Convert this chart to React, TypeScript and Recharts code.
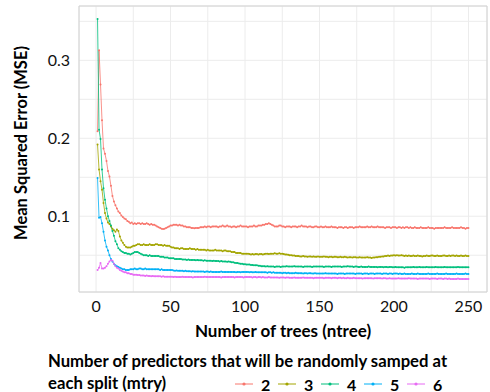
import React from 'react';
import { LineChart, Line, XAxis, YAxis, CartesianGrid, ReferenceArea } from 'recharts';

// Out-of-bag MSE of a random forest by number of trees, one series per mtry value
const mtryLevels = ['2', '3', '4', '5', '6'];
const seriesColors = ['#F8766D', '#A3A500', '#00BF7D', '#00B0F6', '#E76BF3'];

const mse2 = [
  0.209, 0.313, 0.269, 0.223, 0.187, 0.180, 0.171, 0.158, 0.151, 0.139,
  0.126, 0.119, 0.114, 0.110, 0.106, 0.104, 0.101, 0.099, 0.097, 0.096,
  0.094, 0.093, 0.091, 0.092, 0.090, 0.091, 0.090, 0.091, 0.091, 0.090,
  0.091, 0.090, 0.090, 0.091, 0.090, 0.089, 0.090, 0.089, 0.089, 0.088,
  0.087, 0.086, 0.085, 0.084, 0.0835, 0.084, 0.085, 0.086, 0.087, 0.088,
  0.088, 0.089, 0.089, 0.089, 0.088, 0.089, 0.088, 0.088, 0.087, 0.087,
  0.086, 0.086, 0.086, 0.085, 0.085, 0.0845, 0.085, 0.085, 0.085, 0.086,
  0.086, 0.086, 0.087, 0.086, 0.087, 0.087, 0.086, 0.087, 0.087, 0.087,
  0.087, 0.086, 0.087, 0.087, 0.088, 0.087, 0.087, 0.088, 0.087, 0.087,
  0.086, 0.087, 0.087, 0.086, 0.087, 0.087, 0.088, 0.087, 0.087, 0.087,
  0.087, 0.086, 0.087, 0.087, 0.087, 0.088, 0.087, 0.087, 0.088, 0.088,
  0.088, 0.089, 0.089, 0.090, 0.090, 0.091, 0.090, 0.089, 0.088, 0.087,
  0.087, 0.087, 0.088, 0.088, 0.087, 0.087, 0.086, 0.087, 0.087, 0.087,
  0.086, 0.087, 0.087, 0.087, 0.086, 0.087, 0.087, 0.088, 0.087, 0.087,
  0.087, 0.086, 0.087, 0.087, 0.086, 0.086, 0.087, 0.087, 0.086, 0.086,
  0.087, 0.086, 0.086, 0.087, 0.086, 0.086, 0.086, 0.087, 0.086, 0.086,
  0.086, 0.085, 0.086, 0.086, 0.086, 0.085, 0.086, 0.086, 0.085, 0.086,
  0.086, 0.086, 0.085, 0.086, 0.086, 0.086, 0.087, 0.086, 0.086, 0.086,
  0.086, 0.087, 0.086, 0.086, 0.087, 0.086, 0.086, 0.086, 0.087, 0.086,
  0.086, 0.086, 0.086, 0.085, 0.086, 0.086, 0.086, 0.085, 0.086, 0.086,
  0.086, 0.085, 0.086, 0.086, 0.085, 0.086, 0.085, 0.086, 0.086, 0.085,
  0.086, 0.085, 0.085, 0.086, 0.085, 0.085, 0.085, 0.086, 0.085, 0.085,
  0.085, 0.085, 0.086, 0.085, 0.085, 0.085, 0.084, 0.085, 0.085, 0.085,
  0.085, 0.085, 0.085, 0.086, 0.085, 0.085, 0.085, 0.085, 0.086, 0.085,
  0.085, 0.085, 0.085, 0.085, 0.086, 0.085, 0.085, 0.084, 0.085, 0.085,
];

const mse3 = [
  0.192, 0.160, 0.145, 0.134, 0.117, 0.104, 0.097, 0.092, 0.090, 0.087,
  0.084, 0.082, 0.080, 0.083, 0.081, 0.074, 0.069, 0.066, 0.063, 0.061,
  0.060, 0.060, 0.060, 0.061, 0.062, 0.062, 0.063, 0.064, 0.064, 0.063,
  0.063, 0.064, 0.063, 0.063, 0.063, 0.064, 0.063, 0.063, 0.063, 0.064,
  0.064, 0.063, 0.063, 0.063, 0.062, 0.063, 0.062, 0.062, 0.062, 0.061,
  0.060, 0.060, 0.059, 0.059, 0.059, 0.058, 0.059, 0.059, 0.058, 0.058,
  0.058, 0.058, 0.059, 0.058, 0.058, 0.058, 0.057, 0.058, 0.057, 0.057,
  0.057, 0.057, 0.057, 0.056, 0.057, 0.056, 0.056, 0.056, 0.056, 0.057,
  0.056, 0.056, 0.056, 0.056, 0.055, 0.056, 0.056, 0.055, 0.055, 0.055,
  0.054, 0.054, 0.054, 0.053, 0.053, 0.053, 0.053, 0.052, 0.052, 0.052,
  0.052, 0.052, 0.0515, 0.051, 0.0515, 0.051, 0.0515, 0.0515, 0.051, 0.0515,
  0.0515, 0.051, 0.0515, 0.052, 0.052, 0.0515, 0.052, 0.052, 0.052, 0.0525,
  0.052, 0.052, 0.0525, 0.052, 0.052, 0.0515, 0.051, 0.051, 0.0505, 0.050,
  0.050, 0.0495, 0.0495, 0.049, 0.049, 0.049, 0.0485, 0.0485, 0.049, 0.0485,
  0.0485, 0.048, 0.0485, 0.0485, 0.048, 0.0485, 0.048, 0.048, 0.0485, 0.048,
  0.048, 0.048, 0.0485, 0.048, 0.048, 0.0475, 0.048, 0.048, 0.0475, 0.048,
  0.048, 0.0475, 0.0475, 0.048, 0.0475, 0.0475, 0.048, 0.0475, 0.047, 0.0475,
  0.0475, 0.047, 0.0475, 0.0475, 0.047, 0.047, 0.0475, 0.047, 0.047, 0.047,
  0.047, 0.0475, 0.047, 0.047, 0.0465, 0.047, 0.047, 0.0475, 0.0475, 0.048,
  0.048, 0.0485, 0.0485, 0.049, 0.049, 0.0495, 0.049, 0.0495, 0.0495, 0.050,
  0.0495, 0.050, 0.0495, 0.0495, 0.050, 0.0495, 0.049, 0.0495, 0.049, 0.0495,
  0.049, 0.049, 0.0495, 0.049, 0.049, 0.0495, 0.049, 0.049, 0.0485, 0.049,
  0.049, 0.0495, 0.049, 0.049, 0.0495, 0.0495, 0.049, 0.049, 0.0495, 0.049,
  0.049, 0.049, 0.0495, 0.0495, 0.049, 0.049, 0.0495, 0.049, 0.0495, 0.0495,
  0.049, 0.0495, 0.049, 0.049, 0.0495, 0.049, 0.049, 0.0495, 0.049, 0.049,
];

const mse4 = [
  0.353, 0.211, 0.199, 0.160, 0.136, 0.121, 0.110, 0.100, 0.094, 0.088,
  0.081, 0.075, 0.068, 0.064, 0.059, 0.057, 0.055, 0.054, 0.053, 0.053,
  0.052, 0.052, 0.051, 0.052, 0.053, 0.054, 0.054, 0.054, 0.053, 0.052,
  0.051, 0.050, 0.050, 0.050, 0.049, 0.050, 0.049, 0.049, 0.049, 0.049,
  0.049, 0.049, 0.048, 0.048, 0.048, 0.047, 0.047, 0.047, 0.046, 0.046,
  0.046, 0.046, 0.045, 0.045, 0.045, 0.045, 0.045, 0.0445, 0.0445, 0.0445,
  0.044, 0.0445, 0.044, 0.044, 0.044, 0.044, 0.0435, 0.044, 0.0435, 0.0435,
  0.0435, 0.043, 0.0435, 0.043, 0.043, 0.043, 0.043, 0.0425, 0.043, 0.0425,
  0.0425, 0.0425, 0.042, 0.0425, 0.042, 0.042, 0.042, 0.0415, 0.042, 0.0415,
  0.041, 0.041, 0.0405, 0.040, 0.040, 0.0395, 0.039, 0.039, 0.0385, 0.0385,
  0.038, 0.038, 0.038, 0.0375, 0.0375, 0.037, 0.037, 0.037, 0.0365, 0.0365,
  0.036, 0.036, 0.036, 0.0355, 0.036, 0.0355, 0.0355, 0.0355, 0.0355, 0.035,
  0.0355, 0.0355, 0.0355, 0.035, 0.0355, 0.0355, 0.0355, 0.036, 0.0355, 0.0355,
  0.0355, 0.0355, 0.036, 0.0355, 0.0355, 0.0355, 0.0355, 0.0355, 0.035, 0.0355,
  0.0355, 0.0355, 0.0355, 0.0355, 0.035, 0.0355, 0.0355, 0.0355, 0.0355, 0.0355,
  0.0355, 0.0355, 0.035, 0.0355, 0.0355, 0.0355, 0.0355, 0.035, 0.0355, 0.0355,
  0.0355, 0.0355, 0.0355, 0.0355, 0.035, 0.0355, 0.0355, 0.0355, 0.036, 0.0355,
  0.0355, 0.0355, 0.035, 0.0355, 0.0355, 0.035, 0.035, 0.0355, 0.035, 0.035,
  0.035, 0.035, 0.0355, 0.035, 0.035, 0.035, 0.035, 0.035, 0.0345, 0.035,
  0.035, 0.035, 0.0345, 0.035, 0.035, 0.0345, 0.035, 0.035, 0.0345, 0.0345,
  0.035, 0.0345, 0.0345, 0.0345, 0.0345, 0.0345, 0.034, 0.0345, 0.0345, 0.0345,
  0.0345, 0.0345, 0.035, 0.0345, 0.0345, 0.0345, 0.035, 0.0345, 0.0345, 0.0345,
  0.0345, 0.035, 0.0345, 0.0345, 0.0345, 0.0345, 0.0345, 0.035, 0.0345, 0.0345,
  0.0345, 0.0345, 0.0345, 0.035, 0.0345, 0.0345, 0.0345, 0.0345, 0.0345, 0.0345,
  0.0345, 0.0345, 0.035, 0.0345, 0.0345, 0.0345, 0.0345, 0.0345, 0.0345, 0.0345,
];

const mse5 = [
  0.149, 0.098, 0.099, 0.091, 0.080, 0.069, 0.061, 0.056, 0.050, 0.045,
  0.042, 0.039, 0.037, 0.036, 0.035, 0.034, 0.033, 0.032, 0.032, 0.031,
  0.031, 0.031, 0.032, 0.032, 0.032, 0.033, 0.032, 0.032, 0.033, 0.033,
  0.032, 0.032, 0.033, 0.032, 0.032, 0.032, 0.032, 0.032, 0.032, 0.032,
  0.032, 0.032, 0.031, 0.032, 0.031, 0.031, 0.031, 0.031, 0.031, 0.031,
  0.031, 0.0305, 0.030, 0.0305, 0.030, 0.030, 0.030, 0.030, 0.0295, 0.030,
  0.0295, 0.0295, 0.0295, 0.029, 0.0295, 0.029, 0.029, 0.029, 0.029, 0.029,
  0.029, 0.029, 0.0285, 0.029, 0.029, 0.0285, 0.029, 0.0285, 0.0285, 0.0285,
  0.0285, 0.0285, 0.0285, 0.029, 0.0285, 0.0285, 0.0285, 0.0285, 0.0285, 0.0285,
  0.0285, 0.0285, 0.0285, 0.028, 0.0285, 0.0285, 0.028, 0.0285, 0.0285, 0.0285,
  0.0285, 0.0285, 0.028, 0.0285, 0.028, 0.028, 0.0285, 0.028, 0.028, 0.028,
  0.028, 0.028, 0.028, 0.028, 0.0275, 0.028, 0.028, 0.0275, 0.028, 0.0275,
  0.0275, 0.0275, 0.0275, 0.0275, 0.027, 0.0275, 0.0275, 0.027, 0.0275, 0.027,
  0.027, 0.027, 0.027, 0.0275, 0.027, 0.027, 0.027, 0.027, 0.0265, 0.027,
  0.027, 0.0265, 0.027, 0.027, 0.0265, 0.0265, 0.027, 0.0265, 0.0265, 0.0265,
  0.0265, 0.0265, 0.0265, 0.027, 0.0265, 0.0265, 0.0265, 0.0265, 0.0265, 0.0265,
  0.0265, 0.026, 0.0265, 0.0265, 0.0265, 0.0265, 0.026, 0.0265, 0.0265, 0.0265,
  0.0265, 0.0265, 0.0265, 0.026, 0.0265, 0.0265, 0.0265, 0.0265, 0.026, 0.0265,
  0.0265, 0.0265, 0.026, 0.0265, 0.0265, 0.0265, 0.026, 0.0265, 0.0265, 0.0265,
  0.0265, 0.026, 0.0265, 0.0265, 0.0265, 0.026, 0.0265, 0.0265, 0.026, 0.0265,
  0.0265, 0.0265, 0.026, 0.0265, 0.026, 0.026, 0.0265, 0.026, 0.026, 0.026,
  0.026, 0.0265, 0.026, 0.026, 0.026, 0.0265, 0.026, 0.026, 0.026, 0.026,
  0.026, 0.026, 0.0265, 0.026, 0.026, 0.026, 0.026, 0.026, 0.0265, 0.026,
  0.026, 0.026, 0.026, 0.026, 0.0265, 0.026, 0.026, 0.026, 0.026, 0.026,
  0.026, 0.0265, 0.026, 0.026, 0.026, 0.026, 0.026, 0.0265, 0.026, 0.026,
];

const mse6 = [
  0.031, 0.034, 0.040, 0.033, 0.033, 0.034, 0.036, 0.039, 0.042, 0.044,
  0.043, 0.039, 0.036, 0.034, 0.033, 0.031, 0.030, 0.029, 0.028, 0.028,
  0.027, 0.027, 0.026, 0.026, 0.025, 0.025, 0.025, 0.0245, 0.0245, 0.024,
  0.024, 0.024, 0.0235, 0.024, 0.0235, 0.0235, 0.023, 0.0235, 0.023, 0.023,
  0.023, 0.023, 0.023, 0.0225, 0.023, 0.0225, 0.0225, 0.0225, 0.0225, 0.0225,
  0.0225, 0.022, 0.0225, 0.022, 0.022, 0.022, 0.022, 0.0225, 0.022, 0.022,
  0.022, 0.022, 0.022, 0.022, 0.0215, 0.022, 0.022, 0.022, 0.022, 0.022,
  0.022, 0.022, 0.0225, 0.022, 0.022, 0.022, 0.022, 0.022, 0.022, 0.022,
  0.022, 0.022, 0.022, 0.0215, 0.022, 0.022, 0.022, 0.022, 0.022, 0.022,
  0.022, 0.022, 0.0215, 0.022, 0.022, 0.022, 0.022, 0.022, 0.0215, 0.022,
  0.022, 0.022, 0.022, 0.022, 0.0215, 0.022, 0.022, 0.0215, 0.022, 0.022,
  0.0215, 0.022, 0.0215, 0.0215, 0.0215, 0.022, 0.0215, 0.0215, 0.0215, 0.0215,
  0.0215, 0.0215, 0.021, 0.0215, 0.0215, 0.0215, 0.021, 0.0215, 0.0215, 0.021,
  0.021, 0.021, 0.0215, 0.021, 0.021, 0.021, 0.021, 0.021, 0.0215, 0.021,
  0.021, 0.021, 0.021, 0.021, 0.021, 0.0205, 0.021, 0.021, 0.021, 0.021,
  0.021, 0.021, 0.0205, 0.021, 0.021, 0.021, 0.021, 0.0205, 0.021, 0.021,
  0.021, 0.0205, 0.021, 0.021, 0.0205, 0.021, 0.0205, 0.0205, 0.021, 0.0205,
  0.0205, 0.0205, 0.021, 0.0205, 0.0205, 0.0205, 0.0205, 0.0205, 0.020, 0.0205,
  0.0205, 0.0205, 0.0205, 0.0205, 0.0205, 0.020, 0.0205, 0.0205, 0.0205, 0.0205,
  0.0205, 0.020, 0.0205, 0.0205, 0.020, 0.020, 0.0205, 0.020, 0.020, 0.020,
  0.020, 0.020, 0.0205, 0.020, 0.020, 0.020, 0.020, 0.020, 0.020, 0.0205,
  0.020, 0.020, 0.020, 0.020, 0.020, 0.0195, 0.020, 0.020, 0.020, 0.020,
  0.020, 0.020, 0.020, 0.0195, 0.020, 0.020, 0.020, 0.020, 0.0195, 0.020,
  0.020, 0.020, 0.0195, 0.020, 0.020, 0.0195, 0.020, 0.0195, 0.0195, 0.0195,
  0.0195, 0.0195, 0.020, 0.0195, 0.0195, 0.0195, 0.0195, 0.0195, 0.0195, 0.0195,
];

const xTicks = [0, 25, 50, 75, 100, 125, 150, 175, 200, 225, 250];
const xTickLabels = [0, 50, 100, 150, 200, 250];
const yTicks = [0.05, 0.1, 0.15, 0.2, 0.25, 0.3, 0.35];
const yTickLabels = [0.1, 0.2, 0.3];

const xTitle = 'Number of trees (ntree)';
const yTitle = 'Mean Squared Error (MSE)';
const legendTitle = ['Number of predictors that will be randomly samped at', 'each split (mtry)'];

const seriesValues = [mse2, mse3, mse4, mse5, mse6];

const rows = mse2.map((_, i) => {
  const row: Record<string, number> = { ntree: i + 1 };
  mtryLevels.forEach((m, k) => {
    row['mtry' + m] = seriesValues[k][i];
  });
  return row;
});

// ggplot-style 5% expansion of the continuous scales
const allValues = seriesValues.flat();
const yMin = Math.min(...allValues);
const yMax = Math.max(...allValues);
const yPad = (yMax - yMin) * 0.05;
const yDomain: [number, number] = [yMin - yPad, yMax + yPad];
const xPad = (rows.length - 1) * 0.05;
const xDomain: [number, number] = [1 - xPad, rows.length + xPad];

const FONT = "Lato, 'Open Sans', sans-serif";

function LegendKey({ color }: { color: string }) {
  return (
    <svg width={18} height={10} style={{ display: 'block' }}>
      <line x1={0} y1={5} x2={18} y2={5} stroke={color} strokeWidth={1} />
      <circle cx={9} cy={5} r={1.6} fill={color} />
    </svg>
  );
}

export default function App() {
  return (
    <div style={{ position: 'absolute', left: 0, top: 0, width: 490, height: 392, background: '#fff', fontFamily: FONT }}>
      <LineChart
        width={490}
        height={392}
        data={rows}
        margin={{ top: 6, right: 3, left: 0, bottom: 70 }}
      >
        <CartesianGrid stroke="#ececec" strokeWidth={1} />
        <XAxis
          dataKey="ntree"
          type="number"
          domain={xDomain}
          ticks={xTicks}
          interval={0}
          allowDataOverflow
          height={30}
          axisLine={false}
          tickLine={false}
          tickSize={0}
          tickMargin={9}
          tickFormatter={(v: number) => (xTickLabels.includes(v) ? String(v) : '')}
          tick={{ fill: '#111', fontSize: 16, fontFamily: FONT }}
        />
        <YAxis
          type="number"
          domain={yDomain}
          ticks={yTicks}
          interval={0}
          allowDataOverflow
          width={79}
          axisLine={false}
          tickLine={false}
          tickSize={0}
          tickMargin={9}
          tickFormatter={(v: number) => (yTickLabels.some((t) => Math.abs(t - v) < 1e-9) ? String(v) : '')}
          tick={{ fill: '#111', fontSize: 16, fontFamily: FONT }}
        />
        <ReferenceArea
          x1={xDomain[0]}
          x2={xDomain[1]}
          y1={yDomain[0]}
          y2={yDomain[1]}
          fill="none"
          fillOpacity={0}
          stroke="#d2d2d2"
          strokeWidth={1}
          ifOverflow="visible"
        />
        {mtryLevels.map((m, k) => (
          <Line
            key={m}
            type="linear"
            dataKey={'mtry' + m}
            name={m}
            stroke={seriesColors[k]}
            strokeWidth={0.8}
            dot={{ r: 1, fill: seriesColors[k], stroke: 'none' }}
            activeDot={false}
            isAnimationActive={false}
          />
        ))}
      </LineChart>

      <div
        style={{
          position: 'absolute', left: 21, top: 143, transform: 'translate(-50%, -50%) rotate(-90deg)',
          whiteSpace: 'nowrap', fontWeight: 700, fontSize: 16.5, color: '#000',
        }}
      >
        {yTitle}
      </div>
      <div
        style={{
          position: 'absolute', left: 283, top: 330, transform: 'translate(-50%, -50%)',
          whiteSpace: 'nowrap', fontWeight: 700, fontSize: 17, color: '#000',
        }}
      >
        {xTitle}
      </div>
      <div
        style={{
          position: 'absolute', left: 48, top: 350, whiteSpace: 'nowrap',
          fontWeight: 700, fontSize: 16.7, lineHeight: '22px', color: '#000',
        }}
      >
        <div>{legendTitle[0]}</div>
        <div>{legendTitle[1]}</div>
      </div>
      <div style={{ position: 'absolute', left: 235, top: 373, height: 22, display: 'flex', alignItems: 'center' }}>
        {mtryLevels.map((m, k) => (
          <div key={m} style={{ display: 'flex', alignItems: 'center', width: 43 }}>
            <LegendKey color={seriesColors[k]} />
            <span style={{ marginLeft: 8, fontWeight: 700, fontSize: 16, color: '#000' }}>{m}</span>
          </div>
        ))}
      </div>
    </div>
  );
}
